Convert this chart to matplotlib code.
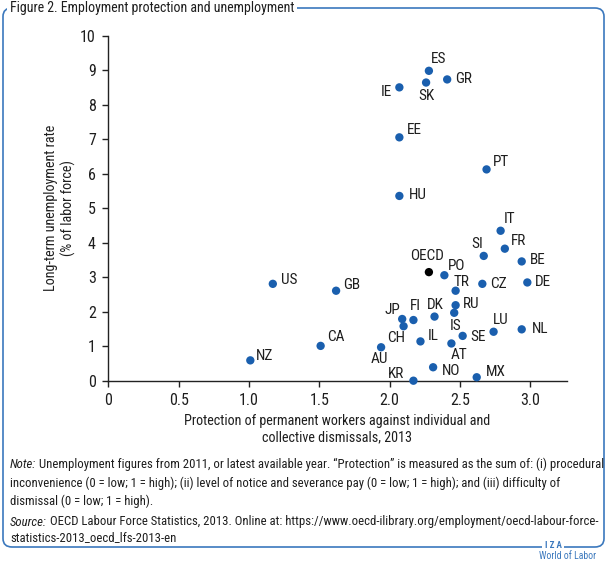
import matplotlib
matplotlib.use("Agg")
import matplotlib.pyplot as plt
from matplotlib.patches import FancyBboxPatch

plt.rcParams['font.family'] = ['Roboto Condensed', 'DejaVu Sans']

countries = ["ES", "GR", "SK", "IE", "EE", "PT", "HU", "IT", "FR", "SI", "BE",
             "OECD", "PO", "CZ", "DE", "TR", "US", "GB", "RU", "IS", "DK", "JP",
             "FI", "CH", "LU", "NL", "SE", "IL", "AT", "AU", "CA", "NZ", "NO",
             "KR", "MX"]
protection = [2.28, 2.41, 2.26, 2.07, 2.07, 2.69, 2.07, 2.79, 2.82, 2.67, 2.94,
              2.28, 2.39, 2.66, 2.98, 2.47, 1.17, 1.62, 2.47, 2.46, 2.32, 2.09,
              2.17, 2.10, 2.74, 2.94, 2.52, 2.22, 2.44, 1.94, 1.51, 1.01, 2.31,
              2.17, 2.62]
unemployment = [8.99, 8.74, 8.65, 8.51, 7.06, 6.13, 5.36, 4.35, 3.83, 3.62, 3.46,
                3.15, 3.06, 2.81, 2.85, 2.61, 2.81, 2.61, 2.19, 1.97, 1.86, 1.79,
                1.76, 1.58, 1.42, 1.49, 1.30, 1.14, 1.08, 0.97, 1.01, 0.59, 0.39,
                0.00, 0.10]
# label offsets in pixels (dx right, dy up)
label_offsets = {
    "ES": (10, 12), "GR": (16, 0), "SK": (0, -13), "IE": (-13, -5), "EE": (15, 7),
    "PT": (14, 7), "HU": (18, 1), "IT": (9, 12), "FR": (14, 8), "SI": (-7, 12),
    "BE": (16, 1), "OECD": (-2, 16), "PO": (12, 9), "CZ": (16, 0), "DE": (16, 0),
    "TR": (6, 9), "US": (16, 4), "GB": (16, 6), "RU": (16, 1), "IS": (1, -13),
    "DK": (1, 12), "JP": (-10, 9), "FI": (2, 14), "CH": (-7, -12), "LU": (7, 12),
    "NL": (18, 0), "SE": (15, -1), "IL": (13, 5), "AT": (8, -12), "AU": (-2, -12),
    "CA": (15, 9), "NZ": (14, 4), "NO": (18, -4), "KR": (-17, 7), "MX": (19, 5),
}

BLUE = "#1a5fae"
FRAME = "#3b78bd"
TXT = "#1e1e1e"

fig = plt.figure(figsize=(6.08, 5.64), dpi=100)
ax = fig.add_axes([108.3 / 608, 1 - 380.7 / 564, (566.7 - 108.3) / 608, (380.7 - 36) / 564])

colors = ["black" if c == "OECD" else BLUE for c in countries]
ax.scatter(protection, unemployment, s=36, c=colors, zorder=3, clip_on=False, linewidths=0)
for c, x, y in zip(countries, protection, unemployment):
    dx, dy = label_offsets[c]
    ax.annotate(c, (x, y), xytext=(dx, dy), textcoords="offset pixels",
                ha="center", va="center", fontsize=11, color=TXT)

ax.set_xlim(0, 3.26)
ax.set_ylim(0, 10)
ax.set_xticks([0, 0.5, 1.0, 1.5, 2.0, 2.5, 3.0])
ax.set_xticklabels(["0", "0.5", "1.0", "1.5", "2.0", "2.5", "3.0"])
ax.set_yticks(range(0, 11))
for s in ["top", "right"]:
    ax.spines[s].set_visible(False)
for s in ["left", "bottom"]:
    ax.spines[s].set_color("#222222")
    ax.spines[s].set_linewidth(1.0)
ax.tick_params(axis="both", length=4, width=1, color="#222222", labelsize=11.5, labelcolor=TXT, pad=5)
ax.set_xlabel("Protection of permanent workers against individual and\ncollective dismissals, 2013",
              fontsize=10.2, color=TXT, labelpad=4, linespacing=1.25)
ax.set_ylabel("Long-term unemployment rate\n(% of labor force)", fontsize=10.2, color=TXT,
              labelpad=3, linespacing=1.25)

# Frame
frame = FancyBboxPatch((3 / 608, 1 - 547 / 564), 601 / 608, (547 - 8) / 564,
                       boxstyle="round,pad=0,rounding_size=0.015", transform=fig.transFigure,
                       fill=False, edgecolor=FRAME, linewidth=1.2)
fig.patches.append(frame)

fig.text(10 / 608, 1 - 8 / 564, "Figure 2. Employment protection and unemployment",
         fontsize=10, color=TXT, ha="left", va="center",
         bbox=dict(facecolor="white", edgecolor="none", pad=2))

NOTE_FS = 9.2
note_kw = dict(fontsize=NOTE_FS, color=TXT, ha="left", va="baseline")
renderer = fig.canvas.get_renderer()


def lead_line(y_px, lead, rest):
    t = fig.text(10 / 608, 1 - y_px / 564, lead, fontstyle="italic", **note_kw)
    w = t.get_window_extent(renderer=renderer).width
    fig.text(10 / 608 + (w + 3) / 608, 1 - y_px / 564, rest, **note_kw)


lead_line(468, "Note:", "Unemployment figures from 2011, or latest available year. \u201cProtection\u201d is measured as the sum of: (i) procedural")
fig.text(10 / 608, 1 - 486.5 / 564,
         "inconvenience (0 = low; 1 = high); (ii) level of notice and severance pay (0 = low; 1 = high); and (iii) difficulty of",
         **note_kw)
fig.text(10 / 608, 1 - 505 / 564, "dismissal (0 = low; 1 = high).", **note_kw)
lead_line(525.5, "Source:", "OECD Labour Force Statistics, 2013. Online at: https://www.oecd-ilibrary.org/employment/oecd-labour-force-")
fig.text(10 / 608, 1 - 541.5 / 564, "statistics-2013_oecd_lfs-2013-en", **note_kw)

fig.text(553 / 608, 1 - 545 / 564, "I Z A", fontsize=6.5, color=FRAME, ha="center", va="center",
         fontweight="bold", bbox=dict(facecolor="white", edgecolor="none", pad=2))
fig.text(568 / 608, 1 - 556 / 564, "World of Labor", fontsize=7, color=FRAME, ha="center",
         va="center", bbox=dict(facecolor="white", edgecolor="none", pad=1))

fig.savefig("out.png", dpi=100)
